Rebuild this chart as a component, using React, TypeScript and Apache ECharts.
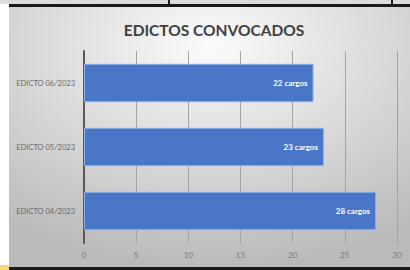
import React, { useEffect, useRef } from "react";
import * as echarts from "echarts";

const categories = ["EDICTO 04/2023", "EDICTO 05/2023", "EDICTO 06/2023"];
const values = [28, 23, 22];
const title = "EDICTOS CONVOCADOS";

export default function App() {
  const ref = useRef<HTMLDivElement>(null);
  useEffect(() => {
    const chart = echarts.init(ref.current!, null, { renderer: "svg" });
    chart.setOption({
      animation: false,
      graphic: [
        { type: "rect", z: -10, shape: { x: 0, y: 0, width: 410, height: 4 }, style: { fill: "#dcdcdc" } },
        {
          type: "rect",
          z: -10,
          shape: { x: 9, y: 6, width: 401, height: 262 },
          style: {
            fill: new echarts.graphic.RadialGradient(0.5, 0.15, 0.85, [
              { offset: 0, color: "#fbfbfb" },
              { offset: 1, color: "#bababa" },
            ]),
          },
        },
        { type: "rect", z: 10, shape: { x: 9, y: 4, width: 401, height: 3 }, style: { fill: "#1a1a1a" } },
        { type: "rect", z: 10, shape: { x: 168, y: 0, width: 2, height: 5 }, style: { fill: "#1a1a1a" } },
        { type: "rect", z: 10, shape: { x: 391, y: 0, width: 2, height: 5 }, style: { fill: "#1a1a1a" } },
        { type: "rect", z: 10, shape: { x: 9, y: 267, width: 401, height: 3 }, style: { fill: "#1a1a1a" } },
        { type: "rect", z: 10, shape: { x: 0, y: 265, width: 9, height: 5 }, style: { fill: "#fbd77a" } },
      ],
      title: {
        text: title,
        left: 209,
        top: 17,
        textAlign: "center",
        textStyle: { fontFamily: "Lato", fontWeight: "bold", fontSize: 15.5, color: "#404040" },
      },
      grid: { left: 84, right: 13, top: 51, bottom: 27 },
      xAxis: {
        type: "value",
        min: 0,
        max: 30,
        interval: 5,
        axisLine: { show: false },
        axisTick: { show: false },
        splitLine: { show: true, lineStyle: { color: "#a3a3a3", width: 1 } },
        axisLabel: { fontFamily: "Lato", fontSize: 8, color: "#7a7a7a", margin: 8 },
      },
      yAxis: {
        type: "category",
        data: categories,
        axisLine: { show: true, lineStyle: { color: "#595959", width: 2 } },
        axisTick: { show: false },
        axisLabel: { fontFamily: "Lato", fontSize: 7.5, color: "#6a6a6a", margin: 9 },
      },
      series: [
        {
          type: "bar",
          data: values,
          barCategoryGap: "40%",
          itemStyle: { color: "#4a76c8", borderColor: "#8fb0e8", borderWidth: 1 },
          label: {
            show: true,
            position: "insideRight",
            distance: 6,
            formatter: (p: any) => `${p.value} cargos`,
            fontFamily: "Lato",
            fontWeight: "bold",
            fontSize: 8,
            color: "#ffffff",
          },
        },
      ],
    });
    return () => chart.dispose();
  }, []);
  return <div ref={ref} style={{ width: 410, height: 270, position: "absolute", left: 0, top: 0 }} />;
}
